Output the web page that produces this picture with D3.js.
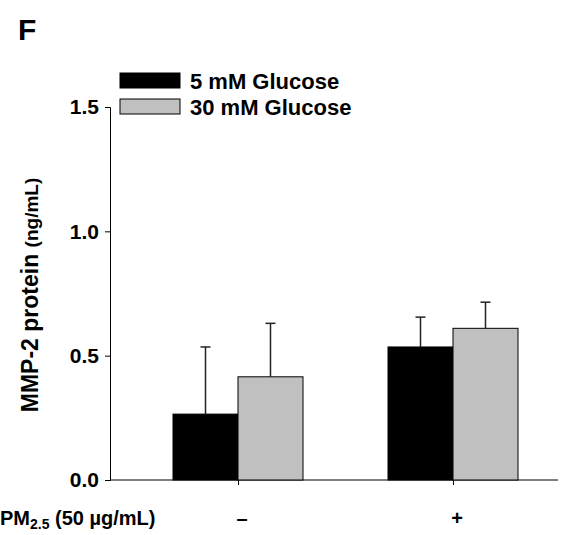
<!DOCTYPE html>
<html><head><meta charset="utf-8">
<script src="https://cdn.jsdelivr.net/npm/d3@7"></script>
<style>body{margin:0;background:#fff}text{font-family:Arial,"Liberation Sans",sans-serif;font-weight:bold}</style>
</head><body>
<script>
const groups = ['\u2013', '+'];
const series = ['5 mM Glucose', '30 mM Glucose'];
const colors = ['#000000', '#c0c0c0'];
const means = [[0.265, 0.535], [0.415, 0.61]];
const errs = [[0.27, 0.12], [0.215, 0.105]];
const yTicks = [0, 0.5, 1.0, 1.5];

const W = 578, H = 535;
const svg = d3.select('body').append('svg').attr('width', W).attr('height', H);
const y = d3.scaleLinear().domain([0, 1.5]).range([480, 107]);
const x = d3.scalePoint().domain(groups).range([238, 453]);
const bw = 65;

svg.append('text').attr('x', 18).attr('y', 40).attr('font-size', 30).text('F');

const ya = svg.append('g').attr('transform', 'translate(110,0)')
  .call(d3.axisLeft(y).tickValues(yTicks).tickFormat(d3.format('.1f')).tickSize(5).tickPadding(6));
ya.selectAll('text').attr('font-size', 21);
const xa = svg.append('g').attr('transform', 'translate(0,480)')
  .call(d3.axisBottom(x).tickSize(5).tickSizeOuter(0).tickFormat(''));
xa.select('.domain').attr('d', 'M110,0H558');
svg.selectAll('.domain, .tick line').attr('stroke', '#000');

series.forEach((s, i) => {
  const g = svg.append('g');
  groups.forEach((gr, j) => {
    const x0 = x(gr) + (i - 1) * bw;
    g.append('rect').attr('x', x0).attr('y', y(means[i][j])).attr('width', bw)
      .attr('height', y(0) - y(means[i][j])).attr('fill', colors[i]).attr('stroke', '#000').attr('stroke-width', 1);
    const cx = x0 + bw / 2, top = y(means[i][j] + errs[i][j]);
    g.append('line').attr('x1', cx).attr('x2', cx).attr('y1', y(means[i][j])).attr('y2', top).attr('stroke', '#222').attr('stroke-width', 1.5);
    g.append('line').attr('x1', cx - 5).attr('x2', cx + 5).attr('y1', top).attr('y2', top).attr('stroke', '#222').attr('stroke-width', 1.5);
  });
  svg.append('rect').attr('x', 120).attr('y', 73 + i * 26).attr('width', 60).attr('height', 15)
    .attr('fill', colors[i]).attr('stroke', '#000');
  svg.append('text').attr('x', 190).attr('y', 89 + i * 26).attr('font-size', 22).text(s);
});

groups.forEach(gr => svg.append('text').attr('x', x(gr) + 4).attr('y', 525)
  .attr('text-anchor', 'middle').attr('font-size', 20).attr('font-weight', 'normal').text(gr));

const xl = svg.append('text').attr('x', 0).attr('y', 525).attr('font-size', 20);
xl.append('tspan').text('PM');
xl.append('tspan').attr('font-size', 14).attr('dy', 4).text('2.5');
xl.append('tspan').attr('dy', -4).text(' (50 \u00b5g/mL)');

const yl = svg.append('text').attr('transform', 'translate(38,295) rotate(-90)').attr('text-anchor', 'middle').attr('font-size', 23);
yl.append('tspan').text('MMP-2 protein ');
yl.append('tspan').attr('font-size', 19).text('(ng/mL)');
</script>
</body></html>
